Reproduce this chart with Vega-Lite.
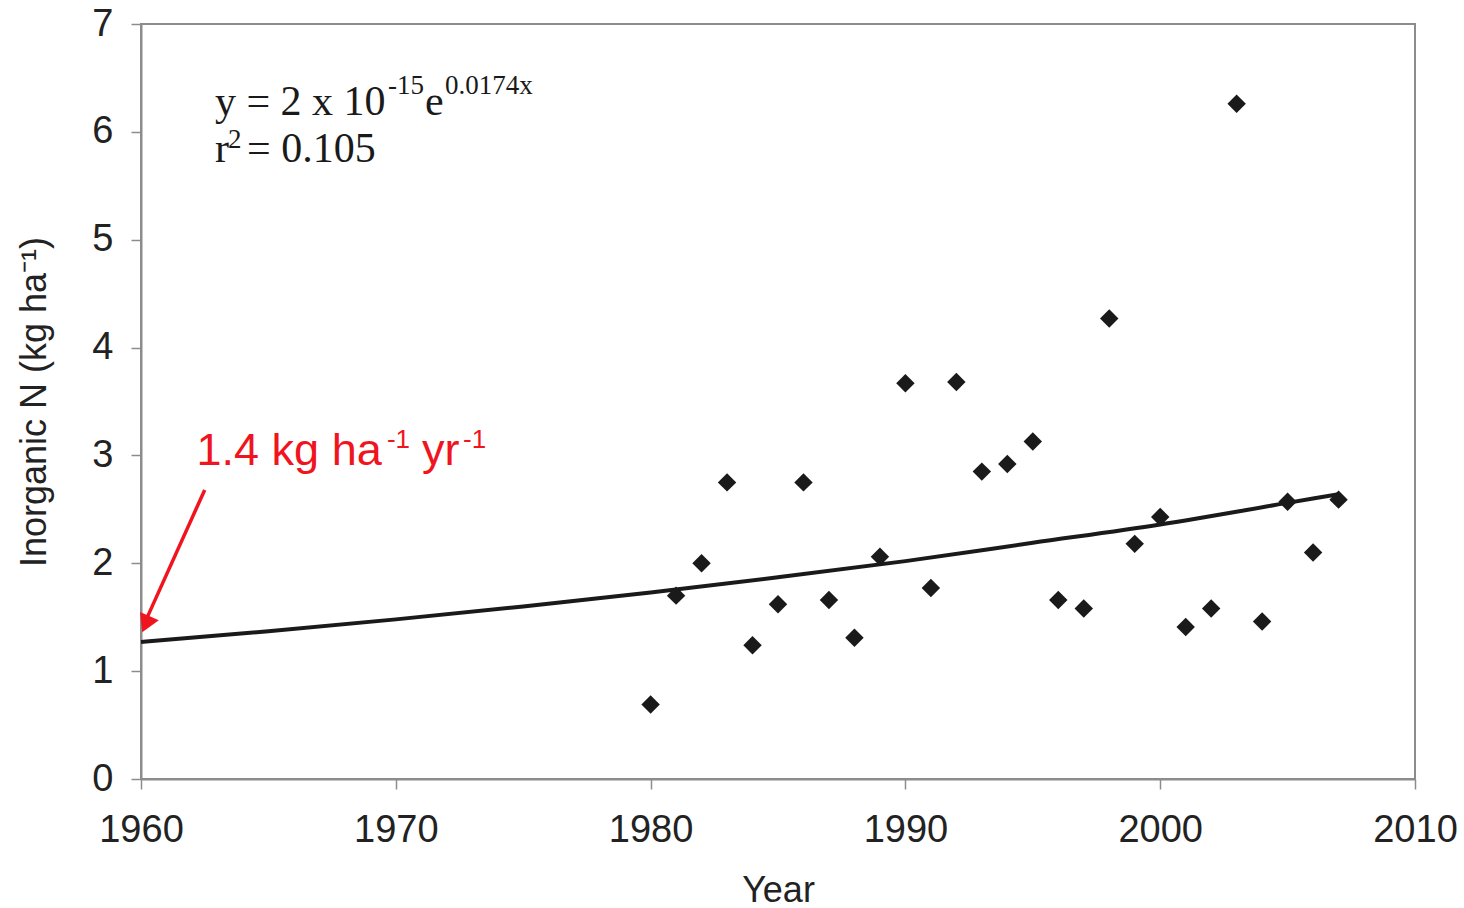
{
  "$schema": "https://vega.github.io/schema/vega-lite/v6.json",
  "autosize": "none",
  "width": 1274,
  "height": 755,
  "padding": {"left": 141, "top": 24, "right": 49, "bottom": 129},
  "background": "white",
  "config": {
    "view": {"stroke": "#8c8c8c", "strokeWidth": 2},
    "font": "Liberation Sans",
    "axis": {
      "domainColor": "#8c8c8c", "domainWidth": 2,
      "tickColor": "#8c8c8c", "tickWidth": 1.5, "tickSize": 10,
      "grid": false, "labelFlush": false, "labelOverlap": false,
      "labelFont": "Liberation Sans", "labelFontSize": 38, "labelColor": "#222222",
      "titleFont": "Liberation Sans", "titleFontSize": 36, "titleFontWeight": "normal", "titleColor": "#222222"
    }
  },
  "datasets": {
    "obs": [
      {"year": 1980, "n": 0.69}, {"year": 1981, "n": 1.70}, {"year": 1982, "n": 2.0},
      {"year": 1983, "n": 2.75}, {"year": 1984, "n": 1.24}, {"year": 1985, "n": 1.62},
      {"year": 1986, "n": 2.75}, {"year": 1987, "n": 1.66}, {"year": 1988, "n": 1.31},
      {"year": 1989, "n": 2.06}, {"year": 1990, "n": 3.67}, {"year": 1991, "n": 1.77},
      {"year": 1992, "n": 3.68}, {"year": 1993, "n": 2.85}, {"year": 1994, "n": 2.92},
      {"year": 1995, "n": 3.13}, {"year": 1996, "n": 1.66}, {"year": 1997, "n": 1.58},
      {"year": 1998, "n": 4.27}, {"year": 1999, "n": 2.18}, {"year": 2000, "n": 2.43},
      {"year": 2001, "n": 1.41}, {"year": 2002, "n": 1.58}, {"year": 2003, "n": 6.26},
      {"year": 2004, "n": 1.46}, {"year": 2005, "n": 2.57}, {"year": 2006, "n": 2.10},
      {"year": 2007, "n": 2.59}
    ],
    "trend": [
      {"year": 1960, "n": 1.27}, {"year": 1965, "n": 1.37}, {"year": 1970, "n": 1.48},
      {"year": 1975, "n": 1.60}, {"year": 1980, "n": 1.73}, {"year": 1985, "n": 1.87},
      {"year": 1990, "n": 2.02}, {"year": 1995, "n": 2.19}, {"year": 2000, "n": 2.36},
      {"year": 2005, "n": 2.56}, {"year": 2007, "n": 2.64}
    ],
    "eqBig": [
      {"label": "y = 2 x 10", "year": 1962.9, "n": 6.156},
      {"label": "e", "year": 1971.15, "n": 6.156},
      {"label": "r", "year": 1962.9, "n": 5.723},
      {"label": "= 0.105", "year": 1964.16, "n": 5.723}
    ],
    "eqSmall": [
      {"label": "-15", "year": 1969.69, "n": 6.35},
      {"label": "0.0174x", "year": 1971.93, "n": 6.35},
      {"label": "2", "year": 1963.41, "n": 5.85}
    ],
    "redBig": [
      {"label": "1.4 kg ha", "year": 1962.18, "n": 2.911},
      {"label": "yr", "year": 1971.03, "n": 2.911}
    ],
    "redSmall": [
      {"label": "-1", "year": 1969.65, "n": 3.07},
      {"label": "-1", "year": 1972.64, "n": 3.07}
    ],
    "arrow": [
      {"x1": 1962.5, "y1": 2.68, "x2": 1960.15, "y2": 1.45}
    ],
    "arrowHead": [
      {"year": 1960.19, "n": 1.435}
    ]
  },
  "layer": [
    {
      "data": {"name": "trend"},
      "mark": {"type": "line", "color": "#1a1a1a", "strokeWidth": 4, "interpolate": "monotone"},
      "encoding": {
        "x": {"field": "year", "type": "quantitative",
              "scale": {"domain": [1960, 2010], "nice": false, "zero": false},
              "axis": {"values": [1960, 1970, 1980, 1990, 2000, 2010], "format": "d", "title": "Year", "labelPadding": 22, "titlePadding": 24}},
        "y": {"field": "n", "type": "quantitative",
              "scale": {"domain": [0, 7], "nice": false},
              "axis": {"values": [0, 1, 2, 3, 4, 5, 6, 7], "format": "d", "title": "Inorganic N (kg ha⁻¹)", "labelPadding": 18, "titlePadding": 38}}
      }
    },
    {
      "data": {"name": "obs"},
      "mark": {"type": "point", "shape": "diamond", "filled": true, "color": "#1a1a1a", "size": 340, "opacity": 1},
      "encoding": {
        "x": {"field": "year", "type": "quantitative"},
        "y": {"field": "n", "type": "quantitative"}
      }
    },
    {
      "data": {"name": "eqBig"},
      "mark": {"type": "text", "font": "Liberation Serif", "fontSize": 42, "align": "left", "baseline": "alphabetic", "color": "#1a1a1a"},
      "encoding": {
        "x": {"field": "year", "type": "quantitative"},
        "y": {"field": "n", "type": "quantitative"},
        "text": {"field": "label"}
      }
    },
    {
      "data": {"name": "eqSmall"},
      "mark": {"type": "text", "font": "Liberation Serif", "fontSize": 27, "align": "left", "baseline": "alphabetic", "color": "#1a1a1a"},
      "encoding": {
        "x": {"field": "year", "type": "quantitative"},
        "y": {"field": "n", "type": "quantitative"},
        "text": {"field": "label"}
      }
    },
    {
      "data": {"name": "redBig"},
      "mark": {"type": "text", "font": "Liberation Sans", "fontSize": 45, "align": "left", "baseline": "alphabetic", "color": "#f0141e"},
      "encoding": {
        "x": {"field": "year", "type": "quantitative"},
        "y": {"field": "n", "type": "quantitative"},
        "text": {"field": "label"}
      }
    },
    {
      "data": {"name": "redSmall"},
      "mark": {"type": "text", "font": "Liberation Sans", "fontSize": 26, "align": "left", "baseline": "alphabetic", "color": "#f0141e"},
      "encoding": {
        "x": {"field": "year", "type": "quantitative"},
        "y": {"field": "n", "type": "quantitative"},
        "text": {"field": "label"}
      }
    },
    {
      "data": {"name": "arrow"},
      "mark": {"type": "rule", "color": "#f0141e", "strokeWidth": 3.5},
      "encoding": {
        "x": {"field": "x1", "type": "quantitative"},
        "y": {"field": "y1", "type": "quantitative"},
        "x2": {"field": "x2"},
        "y2": {"field": "y2"}
      }
    },
    {
      "data": {"name": "arrowHead"},
      "mark": {"type": "point", "shape": "triangle-up", "filled": true, "color": "#f0141e", "size": 420, "angle": 204, "opacity": 1},
      "encoding": {
        "x": {"field": "year", "type": "quantitative"},
        "y": {"field": "n", "type": "quantitative"}
      }
    }
  ]
}
